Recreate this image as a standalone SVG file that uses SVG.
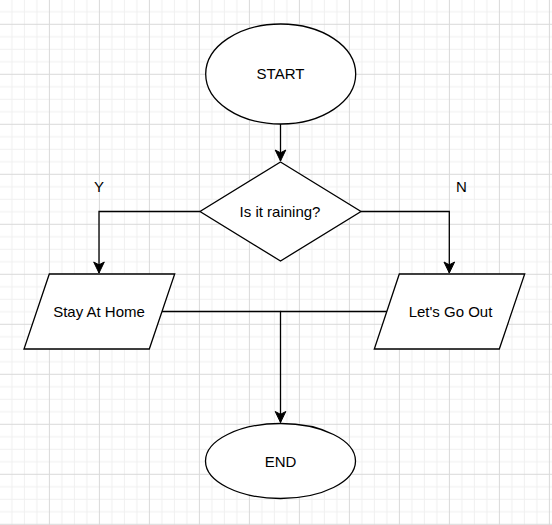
<svg xmlns="http://www.w3.org/2000/svg" width="552" height="525" viewBox="0 0 552 525">
  <style>
    .shape { fill: #ffffff; stroke: #000000; stroke-width: 1.3; }
    .edge { fill: none; stroke: #000000; stroke-width: 1.3; }
    .label { font-family: "Liberation Sans", Arial, sans-serif; font-size: 15px; fill: #000000; text-anchor: middle; }
  </style>
  <defs>
    <pattern id="grid" patternUnits="userSpaceOnUse" x="48.9" y="23.8" width="50" height="50">
      <rect x="0" y="0" width="50" height="50" fill="#ffffff"/>
      <rect x="12.5" y="0" width="1" height="50" fill="#f0f0f0"/>
      <rect x="25" y="0" width="1" height="50" fill="#f0f0f0"/>
      <rect x="37.5" y="0" width="1" height="50" fill="#f0f0f0"/>
      <rect x="0" y="12.5" width="50" height="1" fill="#f0f0f0"/>
      <rect x="0" y="25" width="50" height="1" fill="#f0f0f0"/>
      <rect x="0" y="37.5" width="50" height="1" fill="#f0f0f0"/>
      <rect x="0" y="0" width="1" height="50" fill="#d9d9d9"/>
      <rect x="0" y="0" width="50" height="1" fill="#d9d9d9"/>
    </pattern>
    <marker id="arrow" markerUnits="userSpaceOnUse" markerWidth="14" markerHeight="14" viewBox="-12 -6 14 12" refX="0" refY="0" orient="auto">
      <path d="M0,0 L-11,-5.3 L-8.2,0 L-11,5.3 Z" fill="#000000" stroke="#000000" stroke-width="1"/>
    </marker>
  </defs>
  <rect x="0" y="0" width="552" height="525" fill="url(#grid)"/>

  <g id="connectors">
    <path class="edge" d="M280.5,124 L280.5,161" marker-end="url(#arrow)"/>
    <path class="edge" d="M200,211.5 L99,211.5 L99,273" marker-end="url(#arrow)"/>
    <path class="edge" d="M361,211.5 L449.3,211.5 L449.3,273" marker-end="url(#arrow)"/>
    <path class="edge" d="M162,311.5 L280.5,311.5 L280.5,422.5" marker-end="url(#arrow)"/>
    <path class="edge" d="M387,311.5 L280.5,311.5"/>
  </g>

  <g id="start">
    <ellipse class="shape" cx="280.7" cy="74" rx="75" ry="50"/>
    <text class="label" x="280.5" y="79">START</text>
  </g>

  <g id="decision">
    <polygon class="shape" points="280.5,162 361,211.5 280.5,261 200,211.5"/>
    <text class="label" x="280" y="217">Is it raining?</text>
  </g>

  <g id="label-y">
    <text class="label" x="99" y="192">Y</text>
  </g>
  <g id="label-n">
    <text class="label" x="461.5" y="192">N</text>
  </g>

  <g id="stay-at-home">
    <polygon class="shape" points="49.3,274 174.7,274 149.3,349 24,349"/>
    <text class="label" x="99" y="317">Stay At Home</text>
  </g>

  <g id="lets-go-out">
    <polygon class="shape" points="399.3,274 524.7,274 499.3,349 374.3,349"/>
    <text class="label" x="450.5" y="317">Let's Go Out</text>
  </g>

  <g id="end">
    <ellipse class="shape" cx="280.5" cy="461" rx="75" ry="37.5"/>
    <text class="label" x="280.5" y="466.5">END</text>
  </g>
</svg>
